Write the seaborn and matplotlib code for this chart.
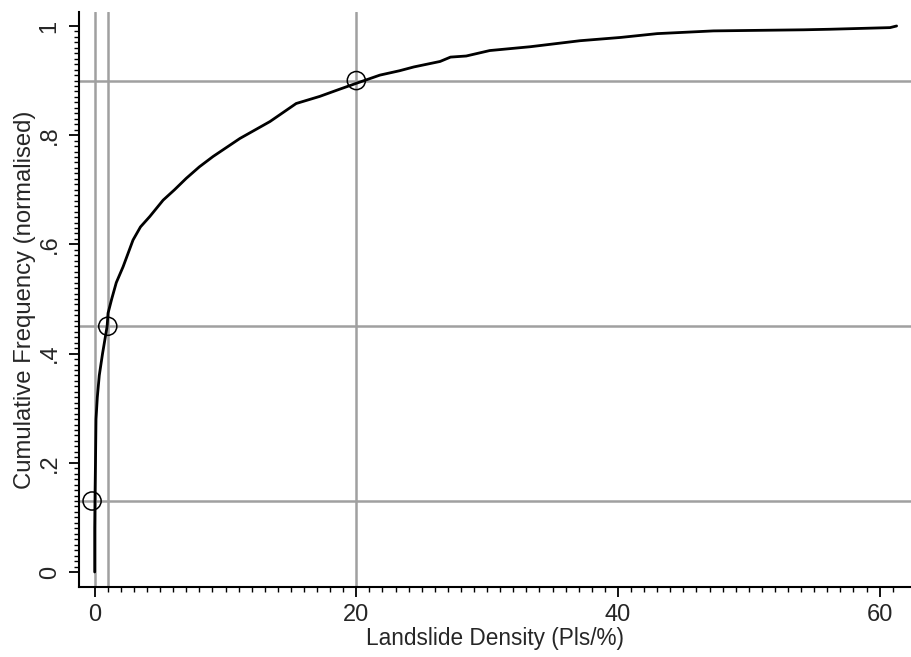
import numpy as np
import pandas as pd
import seaborn as sns
import matplotlib
matplotlib.use("Agg")
import matplotlib.pyplot as plt
from matplotlib.ticker import FixedLocator, FuncFormatter

# curve (landslide density vs normalised cumulative frequency)
density = [0.0, 0.0, 0.03, 0.06, 0.1, 0.2, 0.35, 0.6, 0.95, 1.02, 1.3, 1.65, 2.17,
           2.93, 3.5, 4.21, 5.23, 6.1, 7.0, 8.0, 9.05, 11.1, 13.4, 15.4, 17.2,
           18.7, 20.0, 21.8, 23.3, 24.4, 26.4, 27.2, 28.4, 30.2, 33.3, 37.1,
           40.2, 43.0, 47.3, 54.2, 56.2, 60.8, 61.3]
cum_freq = [0.0, 0.08, 0.15, 0.2, 0.28, 0.32, 0.36, 0.4, 0.45, 0.474, 0.50, 0.53,
            0.559, 0.608, 0.632, 0.651, 0.681, 0.70, 0.721, 0.742, 0.761, 0.794,
            0.825, 0.858, 0.871, 0.884, 0.895, 0.910, 0.918, 0.925, 0.935, 0.943,
            0.945, 0.955, 0.962, 0.973, 0.979, 0.986, 0.991, 0.993, 0.994, 0.997,
            1.0]

# reference lines and marked points
vlines = [0, 1, 20]
hlines = [0.13, 0.45, 0.9]
mark_x = [-0.2, 1, 20]
mark_y = [0.13, 0.45, 0.9]

df = pd.DataFrame({"x": density, "y": cum_freq})
pts = pd.DataFrame({"x": mark_x, "y": mark_y})

sns.set_style("ticks")
plt.rcParams['font.family'] = ['Liberation Sans', 'DejaVu Sans']

fig = plt.figure(figsize=(9.11, 6.57), dpi=100)
ax = fig.add_axes([79 / 911, 70 / 657, 832 / 911, 575 / 657])

for v in vlines:
    ax.axvline(v, color="#a0a0a0", lw=1.8, zorder=1)
for h in hlines:
    ax.axhline(h, color="#a0a0a0", lw=1.8, zorder=1)

sns.lineplot(data=df, x="x", y="y", ax=ax, color="black", lw=2, sort=False,
             estimator=None, zorder=3)
sns.scatterplot(data=pts, x="x", y="y", ax=ax, s=170, facecolor="none",
                edgecolor="black", linewidth=1.1, zorder=4)

ax.set_xlim(-1.2, 62.4)
ax.set_ylim(-0.0275, 1.0256)
ax.set_xticks([0, 20, 40, 60])
ax.set_yticks([0, 0.2, 0.4, 0.6, 0.8, 1.0])
ax.xaxis.set_minor_locator(FixedLocator(np.arange(0, 62, 1)))
ax.yaxis.set_minor_locator(FixedLocator(np.arange(0, 1.001, 0.01)))
ax.yaxis.set_major_formatter(FuncFormatter(
    lambda v, p: "0" if v == 0 else ("1" if v == 1 else f"{v:.1f}".lstrip("0"))))

ax.tick_params(which="major", length=7.2, width=1.3, labelsize=17, color="black")
ax.tick_params(axis="y", which="major", pad=6)
ax.tick_params(axis="x", which="major", pad=5)
ax.tick_params(which="minor", length=3.8, width=1.0, color="black")
for lab in ax.get_yticklabels():
    lab.set_rotation(90)
    lab.set_va("center")

for s in ["top", "right"]:
    ax.spines[s].set_visible(False)
for s in ["left", "bottom"]:
    ax.spines[s].set_linewidth(1.5)
    ax.spines[s].set_color("black")

ax.set_xlabel("Landslide Density (Pls/%)", fontsize=16.3, labelpad=1)
ax.set_ylabel("Cumulative Frequency (normalised)", fontsize=17.2, labelpad=2)

fig.savefig("out.png", dpi=100)
